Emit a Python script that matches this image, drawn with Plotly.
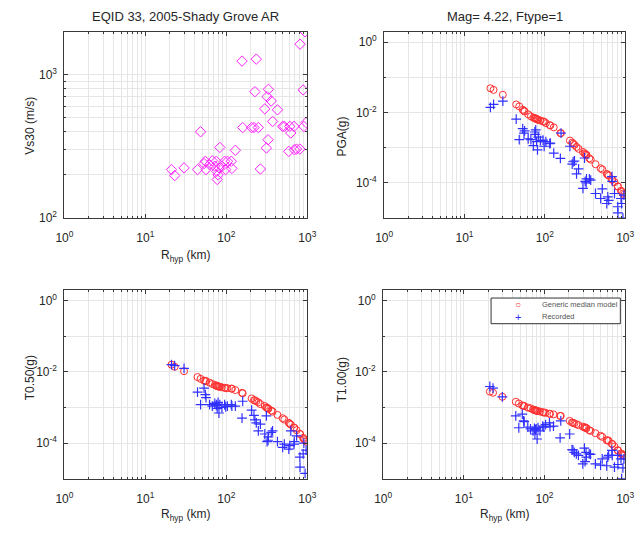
import plotly.graph_objects as go

# ---- data ----
R_hyp = [21, 23, 30, 44, 48, 53, 55, 56, 62, 67, 72, 75, 76, 77, 79, 81, 83, 88, 95, 98,
         103, 115, 117, 129, 156, 159, 205, 219, 225, 234, 248, 263, 298, 312, 318, 327,
         330, 358, 372, 427, 495, 519, 590, 607, 624, 684, 690, 736, 808, 812, 887, 904,
         937, 964]

vs30 = [218, 198, 224, 218, 400, 240, 249, 218, 236, 251, 230, 249, 212, 186, 200, 224,
        311, 229, 249, 218, 249, 249, 222, 297, 1245, 428, 428, 428, 762, 1285, 428, 220,
        578, 308, 703, 352, 791, 656, 472, 569, 436, 436, 292, 436, 392, 436, 300, 303,
        303, 1633, 783, 436, 1990, 464]

pga_model = [0.049, 0.044, 0.032, 0.017, 0.015, 0.012, 0.0112, 0.0107, 0.0089, 0.0078,
             0.0071, 0.0069, 0.0068, 0.0068, 0.0065, 0.0063, 0.0062, 0.0059, 0.0056, 0.0055,
             0.0050, 0.0044, 0.0043, 0.0038, 0.0026, 0.0026, 0.0016, 0.0014, 0.0013, 0.0012,
             0.00105, 0.00093, 0.00076, 0.00069, 0.00066, 0.00063, 0.00062, 0.00050, 0.00046,
             0.00034, 0.00026, 0.00024, 0.00018, 0.00017, 0.00016, 0.000126, 0.000123,
             0.000105, 0.000079, 0.000079, 0.000060, 0.000056, 0.000050, 0.000046]

pga_rec = [0.014, 0.017, 0.021, 0.0065, 0.0017, 0.0035, 0.0026, 0.0030, 0.0018, 0.0017,
           0.00115, 0.0028, 0.0024, 0.0032, 0.0015, 0.00087, 0.0020, 0.0016, 0.00165, 0.0011,
           0.0015, 0.0013, 0.00135, 0.0007, 0.0005, 0.0026, 0.0011, 0.00034, 0.0004, 0.00042,
           0.00018, 0.00025, 0.00007, 0.00051, 0.00011, 0.0001, 0.00013, 0.00013, 0.00012,
           0.00005, 0.000036, 0.000068, 0.000026, 0.00004, 0.000032, 0.00015, 0.00011,
           0.00005, 0.000021, 0.000014, 0.000036, 0.000026, 0.00001, 0.000045]

t050_model = [0.016, 0.014, 0.0105, 0.0072, 0.0064, 0.0057, 0.0056, 0.0055, 0.0050, 0.0046,
              0.0043, 0.0041, 0.0041, 0.0040, 0.0039, 0.0039, 0.0038, 0.0037, 0.0036, 0.0035,
              0.0035, 0.0034, 0.0034, 0.0031, 0.0026, 0.0025, 0.0018, 0.0016, 0.0016, 0.0015,
              0.0014, 0.00125, 0.0011, 0.00100, 0.00098, 0.00094, 0.00092, 0.00082, 0.00077,
              0.00062, 0.00050, 0.00046, 0.00037, 0.00035, 0.00033, 0.00027, 0.00027, 0.00023,
              0.00018, 0.00018, 0.00014, 0.00013, 0.00012, 0.00011]

t050_rec = [0.016, 0.015, 0.0126, 0.0027, 0.0012, 0.0035, 0.0023, 0.0019, 0.0012, 0.0011,
            0.0013, 0.00115, 0.0012, 0.00095, 0.0014, 0.0007, 0.0012, 0.0010, 0.0012, 0.00105,
            0.0011, 0.0012, 0.0011, 0.0011, 0.0005, 0.0015, 0.00085, 0.00060, 0.00045, 0.00037,
            0.00022, 0.00034, 0.00018, 0.00058, 0.00011, 0.00012, 0.00015, 0.00020, 0.00022,
            0.00011, 0.000076, 0.000093, 0.000068, 0.000085, 0.00022, 0.000093, 0.00011,
            0.00016, 0.000040, 0.000021, 0.000050, 0.00010, 0.000014, 0.000063]

t100_model = [0.0028, 0.0026, 0.0020, 0.00145, 0.0013, 0.00115, 0.0011, 0.0011, 0.00100,
              0.00095, 0.00088, 0.00085, 0.00084, 0.00083, 0.00082, 0.00080, 0.00079, 0.00077,
              0.00074, 0.00072, 0.00071, 0.00067, 0.00066, 0.00064, 0.00058, 0.00058, 0.00042,
              0.00038, 0.00037, 0.00036, 0.00034, 0.00032, 0.00029, 0.00028, 0.00027, 0.00027,
              0.00026, 0.00023, 0.00022, 0.00019, 0.00016, 0.00015, 0.00012, 0.00012, 0.000115,
              0.000095, 0.000094, 0.000080, 0.000063, 0.000062, 0.000051, 0.000049, 0.000046,
              0.000044]

t100_rec = [0.0039, 0.0035, 0.0020, 0.00058, 0.00027, 0.00065, 0.00042, 0.00040, 0.00028,
            0.00025, 0.00022, 0.00026, 0.00018, 0.00024, 0.00025, 0.00013, 0.00027, 0.00022,
            0.00030, 0.00028, 0.00033, 0.00037, 0.00029, 0.00030, 0.00014, 0.00042, 0.00018,
            0.000065, 0.000064, 0.000055, 0.000050, 0.000045, 0.000026, 0.000072, 0.000030,
            0.000055, 0.000040, 0.000050, 0.000048, 0.000026, 0.000024, 0.000036, 0.000023,
            0.000040, 0.000045, 0.000062, 0.000045, 0.000021, 0.000045, 0.000025, 0.000036,
            0.000010, 0.000020, 0.000036]

title_left = "EQID 33, 2005-Shady Grove AR"
title_right = "Mag= 4.22, Ftype=1"
xlabel = "R<sub>hyp</sub> (km)"
ylabels = ["Vs30 (m/s)", "PGA(g)", "T0.50(g)", "T1.00(g)"]
legend_labels = ["Generic median model", "Recorded"]

x_major = [1, 10, 100, 1000]
x_major_txt = ["10<sup>0</sup>", "10<sup>1</sup>", "10<sup>2</sup>", "10<sup>3</sup>"]
x_minor = [m * d for d in (1, 10, 100) for m in range(2, 10)]
vs_major = [100, 1000]
vs_major_txt = ["10<sup>2</sup>", "10<sup>3</sup>"]
vs_minor = [200, 300, 400, 500, 600, 700, 800, 900, 2000]
sa_major = [1e-4, 1e-2, 1]
sa_major_txt = ["10<sup>-4</sup>", "10<sup>-2</sup>", "10<sup>0</sup>"]
sa_minor = [1e-5, 1e-3, 1e-1]

# ---- figure ----
W, H = 641, 533
FONT = "Liberation Sans, Arial, Helvetica, sans-serif"
GRID = "#e6e6e6"
LINE = "#3a3a3a"
TXT = "#262626"

fig = go.Figure()

def px_x(p):
    return p / W

def px_y(p):
    return 1 - p / H

panels = [
    dict(x=(57, 307), y=(32, 221)),
    dict(x=(386, 634), y=(32, 221)),
    dict(x=(57, 307), y=(294, 485)),
    dict(x=(385, 634), y=(294, 485)),
]

RED = "#ff3030"
BLUE = "#3030ff"
circle = dict(symbol="circle-open", size=7, color=RED, line=dict(width=1, color=RED))
cross = dict(symbol="cross-thin-open", size=7, color=BLUE, line=dict(width=1.2, color=BLUE))

fig.add_trace(go.Scatter(x=R_hyp, y=vs30, mode="markers", xaxis="x", yaxis="y", showlegend=False,
                         marker=dict(symbol="diamond-open", size=8, color="#ff20ff",
                                     line=dict(width=1, color="#ff20ff"))))

series = [(pga_model, pga_rec), (t050_model, t050_rec), (t100_model, t100_rec)]
for i, (mod, rec) in enumerate(series):
    k = i + 2
    fig.add_trace(go.Scatter(x=R_hyp, y=mod, mode="markers", xaxis=f"x{k}", yaxis=f"y{k}",
                             name=legend_labels[0], showlegend=False, marker=circle))
    fig.add_trace(go.Scatter(x=R_hyp, y=rec, mode="markers", xaxis=f"x{k}", yaxis=f"y{k}",
                             name=legend_labels[1], showlegend=False, marker=cross))

layout = dict(width=W, height=H, margin=dict(l=0, r=0, t=0, b=0),
              paper_bgcolor="white", plot_bgcolor="white", showlegend=False,
              font=dict(family=FONT, size=12, color=TXT))

for k, p in enumerate(panels, start=1):
    sfx = "" if k == 1 else str(k)
    xa = dict(type="log", range=[0, 3], domain=[px_x(p["x"][0]), px_x(p["x"][1])],
              anchor=f"y{sfx}", tickmode="array", tickvals=x_major, ticktext=x_major_txt,
              showgrid=True, gridcolor=GRID, gridwidth=1,
              showline=True, linecolor=LINE, linewidth=1, mirror="ticks",
              ticks="inside", ticklen=4, tickcolor=LINE, zeroline=False,
              ticklabelstandoff=9,
              tickfont=dict(size=12, family=FONT, color=TXT),
              minor=dict(tickmode="array", tickvals=x_minor, showgrid=True, gridcolor=GRID,
                         ticks="inside", ticklen=2, tickcolor=LINE))
    if k == 1:
        yv, yt, ym, yr = vs_major, vs_major_txt, vs_minor, [2, 3.301]
    else:
        yv, yt, ym, yr = sa_major, sa_major_txt, sa_minor, [-5, 0.301]
    ya = dict(type="log", range=yr, domain=[px_y(p["y"][1]), px_y(p["y"][0])],
              anchor=f"x{sfx}", tickmode="array", tickvals=yv, ticktext=yt,
              showgrid=True, gridcolor=GRID, gridwidth=1,
              showline=True, linecolor=LINE, linewidth=1, mirror="ticks",
              ticks="inside", ticklen=4, tickcolor=LINE, zeroline=False,
              ticklabelstandoff=4,
              tickfont=dict(size=12, family=FONT, color=TXT),
              minor=dict(tickmode="array", tickvals=ym, showgrid=True, gridcolor=GRID,
                         ticks="inside", ticklen=2, tickcolor=LINE))
    layout[f"xaxis{sfx}"] = xa
    layout[f"yaxis{sfx}"] = ya

ann = []
def add_text(text, xc, yc, size=12, angle=0, color=TXT, xanchor="center"):
    ann.append(dict(text=text, x=px_x(xc), y=px_y(yc), xref="paper", yref="paper",
                    xanchor=xanchor, yanchor="middle", showarrow=False, textangle=angle,
                    font=dict(size=size, family=FONT, color=color)))

add_text(title_left, 182, 17, size=13)
add_text(title_right, 510, 17, size=13)
for xc, yc in [(182, 259), (182, 522), (510, 522)]:
    add_text(xlabel, xc, yc)
for lab, xc, yc in [(ylabels[0], 22, 127), (ylabels[1], 343, 138),
                    (ylabels[2], 22, 383), (ylabels[3], 343, 385)]:
    add_text(lab, xc, yc, angle=-90)

# legend box (inside the T1.00 panel, top right)
add_text("○", 524, 309, size=10, color=RED)
add_text("+", 524, 321, size=11, color=BLUE)
add_text(legend_labels[0], 546, 309, size=7.5, color="#555555", xanchor="left")
add_text(legend_labels[1], 546, 321, size=7.5, color="#555555", xanchor="left")
layout["annotations"] = ann
layout["shapes"] = [dict(type="rect", xref="paper", yref="paper",
                         x0=px_x(496), x1=px_x(629), y0=px_y(328), y1=px_y(302),
                         line=dict(color="#333333", width=1), fillcolor="white", layer="above")]

fig.update_layout(**layout)
fig.write_html("out.html")
